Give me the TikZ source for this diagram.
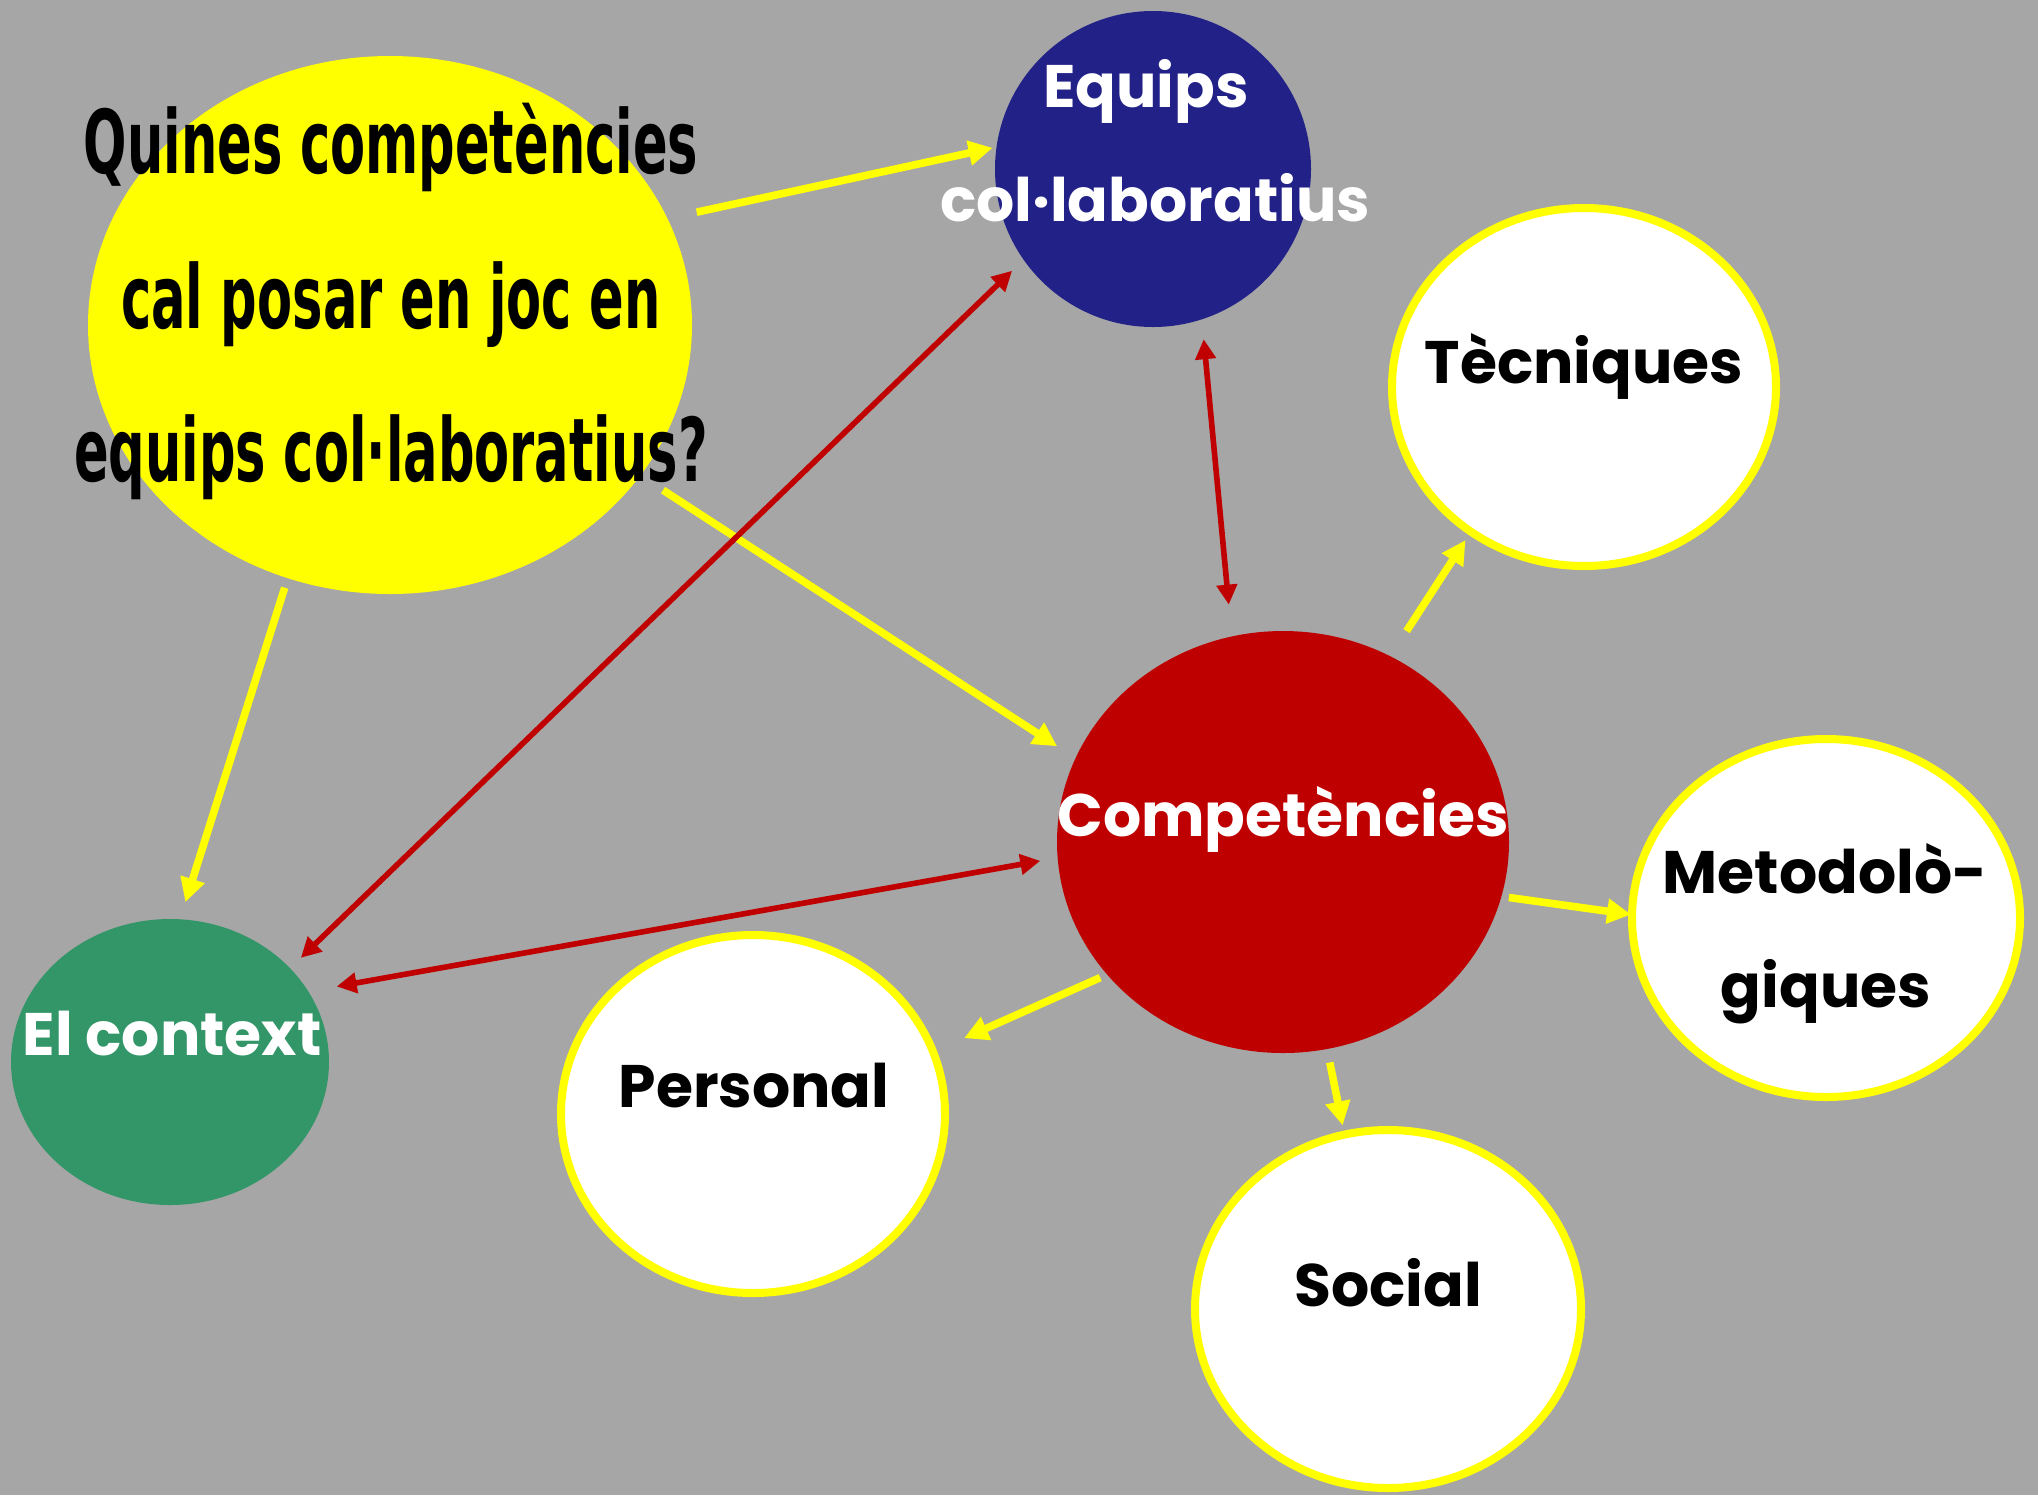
\documentclass[tikz,border=0pt]{standalone}
\usepackage{fontspec}
\usetikzlibrary{shapes.geometric,arrows.meta}
\newfontfamily\pop{Poppins}
\newfontfamily\condf{DejaVu Sans Condensed}[FakeStretch=0.645]
\definecolor{bg}{HTML}{A6A6A6}
\definecolor{yel}{HTML}{FFFF00}
\definecolor{navy}{HTML}{212188}
\definecolor{rd}{HTML}{BF0000}
\definecolor{rdarr}{HTML}{C00000}
\definecolor{grn}{HTML}{339669}
\tikzset{
  blob/.style={ellipse,inner sep=0pt,outer sep=0pt},
  wbub/.style={blob,fill=white,draw=yel,line width=4pt},
  lbl/.style={anchor=base,inner sep=0pt,font=\pop\bfseries\fontsize{30}{36}\selectfont},
  qlbl/.style={anchor=base,inner sep=0pt,font=\condf\bfseries\fontsize{44}{50}\selectfont},
  yarr/.style={draw=yel,line width=3.8pt,-{Triangle[length=12pt,width=12pt]}},
  rarr/.style={draw=rdarr,line width=2.8pt,{Triangle[length=10pt,width=10pt]}-{Triangle[length=10pt,width=10pt]}},
}
\begin{document}
\begin{tikzpicture}[x=0.5pt,y=-0.5pt]
\useasboundingbox (0,0) rectangle (2038,1495);
\fill[bg] (0,0) rectangle (2038,1495);
% bubbles
\node[blob,fill=yel,minimum width=302pt,minimum height=269pt] (q) at (390,325) {};
\node[blob,fill=navy,minimum width=158pt,minimum height=158pt] (eq) at (1153,169) {};
\node[blob,fill=rd,minimum width=226pt,minimum height=211pt] (comp) at (1283,842) {};
\node[blob,fill=grn,minimum width=159pt,minimum height=143pt] (ctx) at (170,1062) {};
\node[wbub,minimum width=192pt,minimum height=179pt] (tec) at (1584,387) {};
\node[wbub,minimum width=194pt,minimum height=179pt] (met) at (1826,918) {};
\node[wbub,minimum width=192pt,minimum height=179pt] (per) at (753,1114) {};
\node[wbub,minimum width=193pt,minimum height=179pt] (soc) at (1388,1309) {};
% texts
\node[qlbl] (q1) at (391,173) {Quines competències};
\node[qlbl] (q2) at (391,328) {cal posar en joc en};
\node[qlbl] (q3) at (391,481) {equips col·laboratius?};
\node[lbl,text=white] (eq1) at (1146,107) {Equips};
\node[lbl,text=white] (eq2) at (1155,221) {col·laboratius};
\node[lbl,text=white] (compt) at (1283,836) {Competències};
\node[lbl,text=white] (ctxt) at (172,1055) {El context};
\node[lbl] (tect) at (1584,383) {Tècniques};
\node[lbl] (met1) at (1825,893) {Metodolò-};
\node[lbl] (met2) at (1826,1007) {giques};
\node[lbl] (pert) at (754,1107) {Personal};
\node[lbl] (soct) at (1388,1306) {Social};
% connectors
\draw[yarr,shorten <=15pt,shorten >=2pt] (q.21) -- (eq.172);
\draw[yarr,shorten <=13.5pt,shorten >=11pt] (q.-31) -- (comp.158);
\draw[yarr,shorten <=5pt,shorten >=9pt] (q.248) -- (ctx.86);
\draw[rarr,shorten <=10pt,shorten >=16pt] (eq.-72) -- (comp.104.5);
\draw[rarr,shorten <=8pt,shorten >=7.5pt] (eq.215) -- (ctx.38);
\draw[rarr,shorten <=8.8pt,shorten >=14.4pt] (comp.184) -- (ctx.27.5);
\draw[yarr,shorten <=15pt,shorten >=5pt] (comp.60) -- (tec.232);
\draw[yarr,shorten <=3.8pt,shorten >=0.5pt] (comp.-14.7) -- (met.179.4);
\draw[yarr,shorten <=3.8pt,shorten >=17pt] (comp.217) -- (per.19.7);
\draw[yarr,shorten <=6.9pt,shorten >=4.7pt] (comp.-78.7) -- (soc.104.4);
\end{tikzpicture}
\end{document}
